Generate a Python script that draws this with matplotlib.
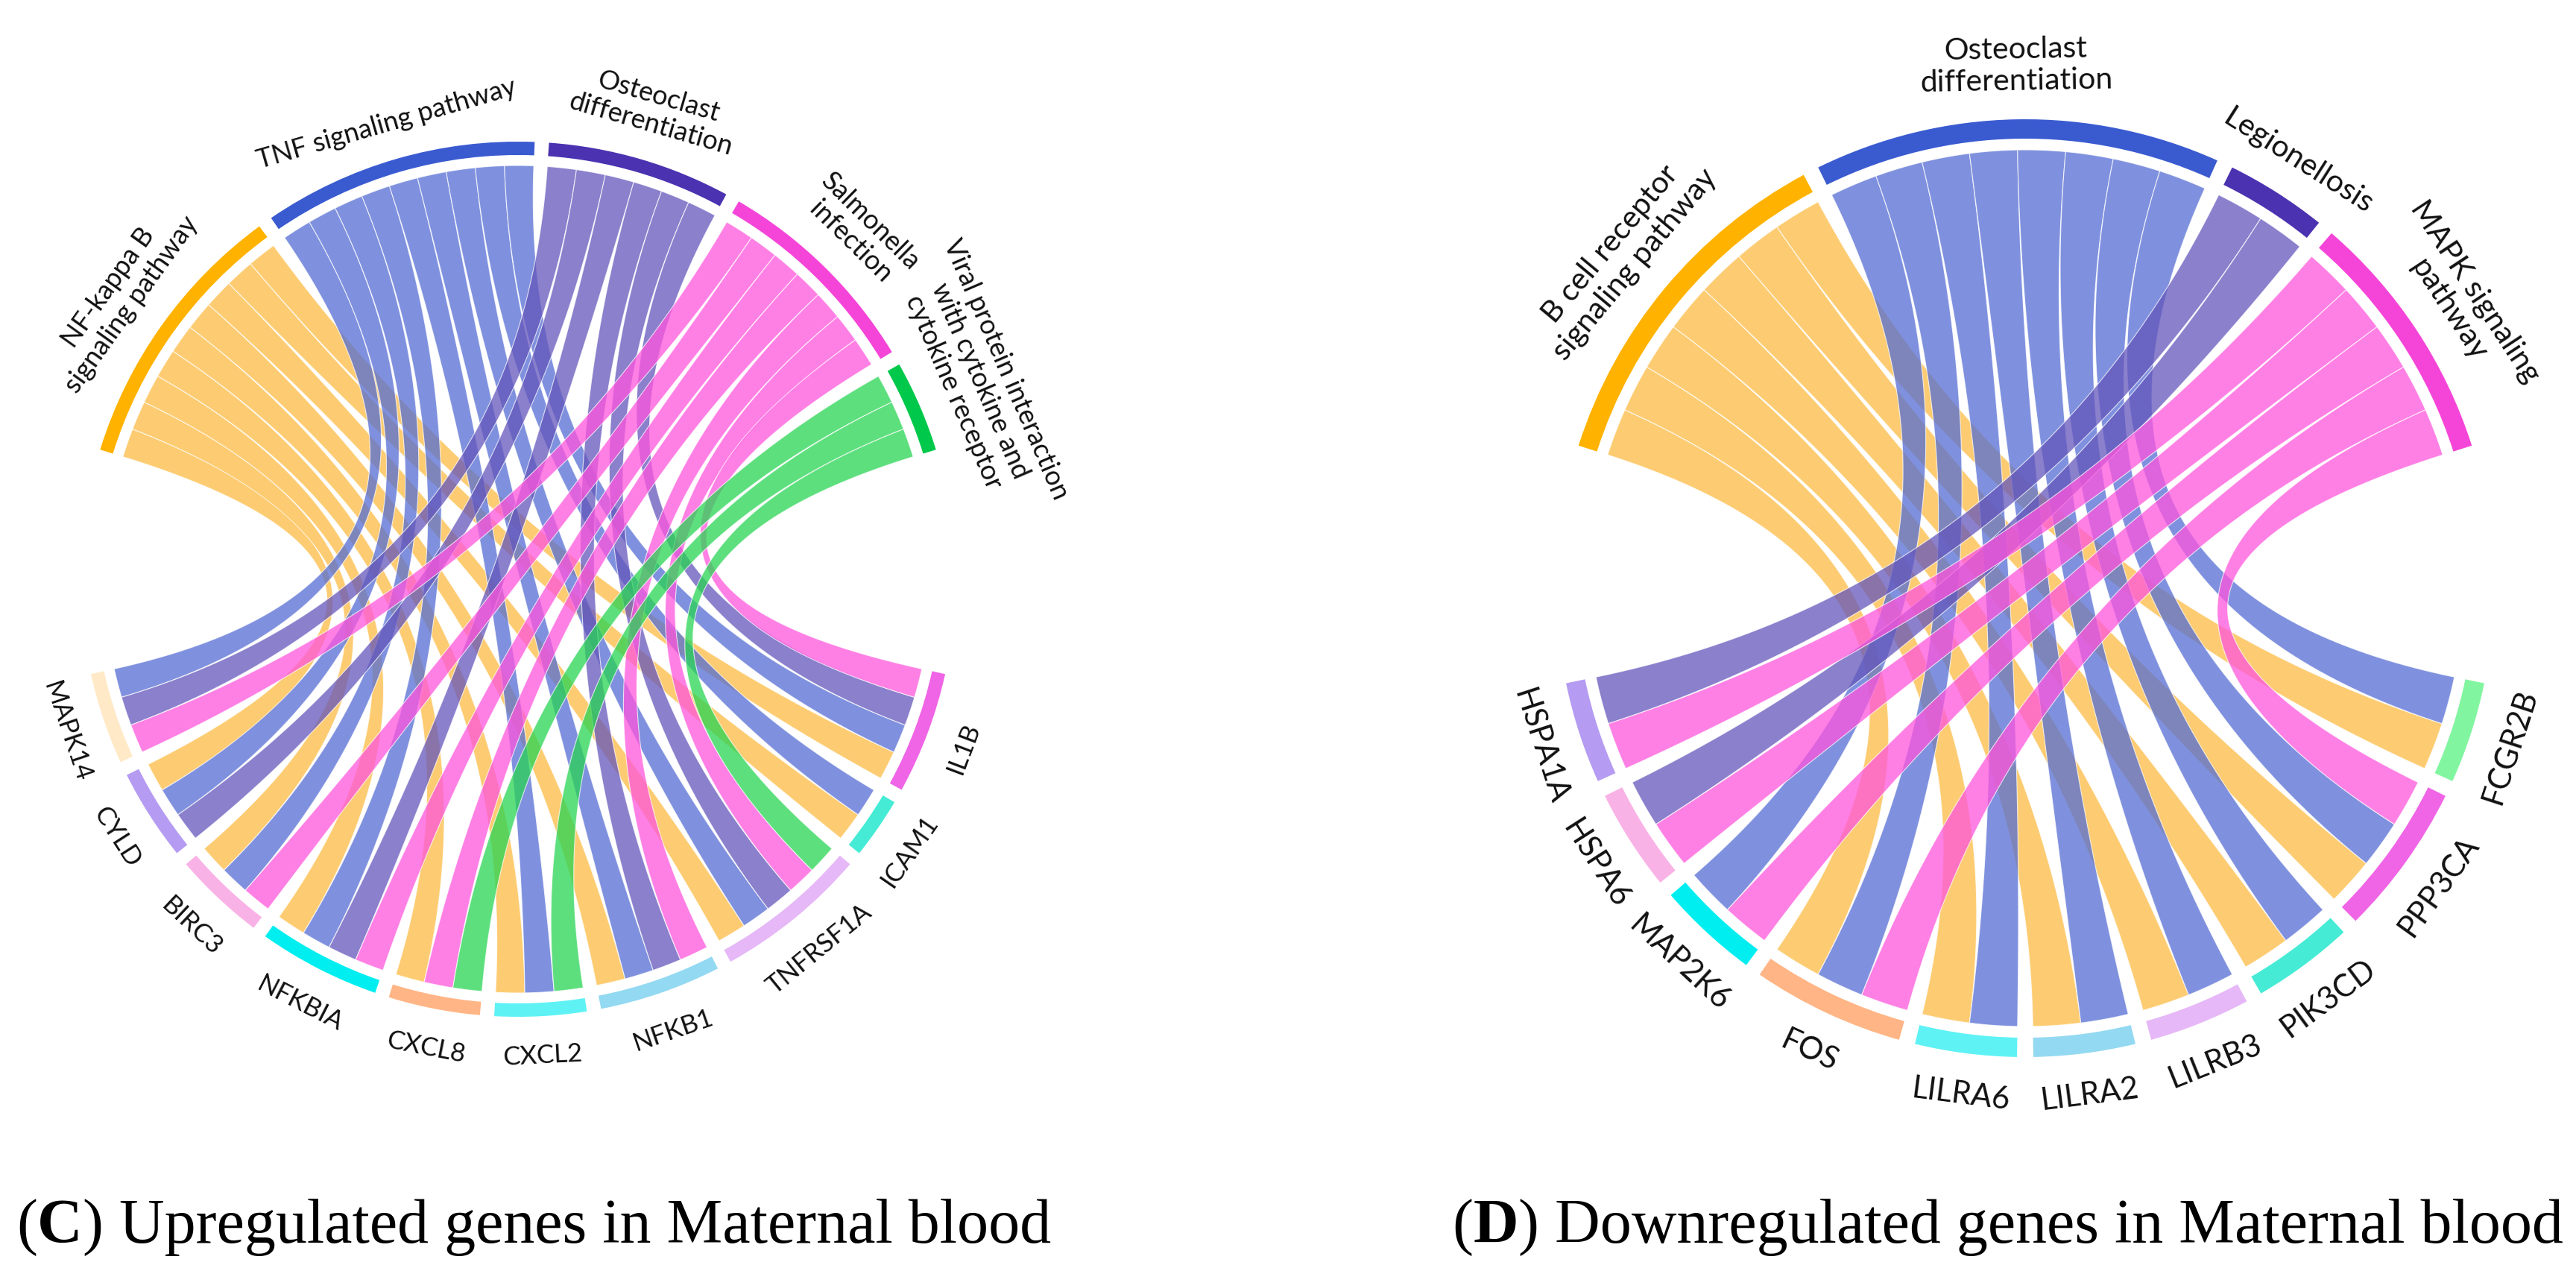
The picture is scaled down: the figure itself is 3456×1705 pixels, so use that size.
import numpy as np
import matplotlib
matplotlib.use("Agg")
import matplotlib.pyplot as plt
from matplotlib.patches import Wedge, Polygon

# ---- data -------------------------------------------------------------
up_genes = ['MAPK14', 'CYLD', 'BIRC3', 'NFKBIA', 'CXCL8', 'CXCL2',
            'NFKB1', 'TNFRSF1A', 'ICAM1', 'IL1B']
up_paths = ['NF-kappa B\nsignaling pathway', 'TNF signaling pathway',
            'Osteoclast\ndifferentiation', 'Salmonella\ninfection',
            'Viral protein interaction\nwith cytokine and\ncytokine receptor']
# rows = genes, cols = pathways
up_links = [[0, 1, 1, 1, 0],
            [1, 1, 1, 0, 0],
            [1, 1, 0, 1, 0],
            [1, 1, 1, 1, 0],
            [1, 0, 0, 1, 1],
            [1, 1, 0, 0, 1],
            [1, 1, 1, 1, 0],
            [1, 1, 1, 1, 1],
            [1, 1, 0, 0, 0],
            [1, 1, 1, 1, 0]]

down_genes = ['HSPA1A', 'HSPA6', 'MAP2K6', 'FOS', 'LILRA6', 'LILRA2',
              'LILRB3', 'PIK3CD', 'PPP3CA', 'FCGR2B']
down_paths = ['B cell receptor\nsignaling pathway', 'Osteoclast\ndifferentiation',
              'Legionellosis', 'MAPK signaling\npathway']
down_links = [[0, 0, 1, 1],
              [0, 0, 1, 1],
              [0, 1, 0, 1],
              [1, 1, 0, 1],
              [1, 1, 0, 0],
              [1, 1, 0, 0],
              [1, 1, 0, 0],
              [1, 1, 0, 0],
              [1, 1, 0, 1],
              [1, 1, 0, 0]]

# ---- colours ----------------------------------------------------------
path_ring = ['#FFB300', '#3A5BD0', '#4B32B0', '#F545D8', '#00C84A']
path_ribbon = ['#FDBB43', '#546DD3', '#6355BB', '#FF55DD', '#28D553']
gene_ring = ['#FFE9C7', '#B59CF2', '#F9B2E6', '#00EEF0', '#FFB585', '#5EF2F5',
             '#93D9F2', '#E6B8F7', '#45EBD5', '#F064E6', '#82F5A0']

W, H = 3456, 1706
fig = plt.figure(figsize=(W / 100, H / 100), dpi=100)
ax = fig.add_axes([0, 0, 1, 1])
ax.set_xlim(0, W)
ax.set_ylim(0, H)
ax.set_aspect('equal')
ax.axis('off')

LABEL_FONT = ['Lato', 'DejaVu Sans']


def pt(c, r, a):
    a = np.radians(a)
    return np.array([c[0] + r * np.cos(a), c[1] + r * np.sin(a)])


def arc(c, r, a0, a1, n=40):
    a = np.radians(np.linspace(a0, a1, n))
    return np.column_stack([c[0] + r * np.cos(a), c[1] + r * np.sin(a)])


def bez(p0, p2, c, n=80):
    t = np.linspace(0, 1, n)[:, None]
    return (1 - t) ** 2 * p0 + 2 * (1 - t) * t * np.array(c) + t ** 2 * p2


def chord(c, R, ring_w, gap_r, w, gap, genes, paths, links, gcols, fs_path, fs_gene):
    M = np.array(links)
    ng, npth = M.shape
    r_in = R - ring_w - gap_r
    pspan = M.sum() * w + (npth - 1) * gap
    gspan = M.sum() * w + (ng - 1) * gap

    # pathway arcs, high angle -> low angle
    p_start = []
    a = 90 + pspan / 2
    for j in range(npth):
        n = M[:, j].sum()
        p_start.append(a)
        ax.add_patch(Wedge(c, R, a - n * w, a, width=ring_w,
                           facecolor=path_ring[j], edgecolor='none'))
        mid = a - n * w / 2
        p = pt(c, R + 33, mid)
        ax.text(p[0], p[1], paths[j], rotation=mid - 90, rotation_mode='anchor',
                ha='center', va='bottom', multialignment='center',
                fontsize=fs_path, family=LABEL_FONT, color='#111111')
        a -= n * w + gap

    # gene arcs, low angle -> high angle
    g_start = []
    a = 270 - gspan / 2
    for i in range(ng):
        n = M[i].sum()
        g_start.append(a)
        ax.add_patch(Wedge(c, R, a, a + n * w, width=ring_w,
                           facecolor=gcols[i], edgecolor='none'))
        mid = a + n * w / 2
        p = pt(c, R + 36, mid)
        ax.text(p[0], p[1], genes[i], rotation=mid + 90, rotation_mode='anchor',
                ha='center', va='top', fontsize=fs_gene, family=LABEL_FONT,
                color='#111111')
        a += n * w + gap

    # ribbons, drawn pathway by pathway
    for j in range(npth):
        k = 0
        for i in range(ng):
            if not M[i, j]:
                continue
            p_hi = p_start[j] - k * w
            p_lo = p_hi - w
            kk = M[i, :j].sum()
            g_lo = g_start[i] + kk * w
            g_hi = g_lo + w
            pts = np.vstack([
                arc(c, r_in, p_lo, p_hi),
                bez(pt(c, r_in, p_hi), pt(c, r_in, g_lo), c),
                arc(c, r_in, g_lo, g_hi),
                bez(pt(c, r_in, g_hi), pt(c, r_in, p_lo), c),
            ])
            ax.add_patch(Polygon(pts, closed=True, facecolor=path_ribbon[j],
                                 alpha=0.75, edgecolor='white', linewidth=0.8))
            k += 1


chord((695, H - 778), 587, 18, 14, 4.06, 1.88, up_genes, up_paths, up_links,
      gene_ring[:10], 26, 25)
chord((2717, H - 790), 629, 26, 15, 6.3, 2.0, down_genes, down_paths, down_links,
      gene_ring[1:], 29.5, 30)

# ---- captions ---------------------------------------------------------
fig.canvas.draw()
renderer = fig.canvas.get_renderer()


def caption(parts, x, y, align='left'):
    texts = []
    for s, bold in parts:
        t = ax.text(0, y, s, fontsize=60.5, family=['Liberation Serif', 'DejaVu Serif'],
                    fontweight='bold' if bold else 'normal', va='baseline', ha='left')
        texts.append(t)
    widths = [t.get_window_extent(renderer).width for t in texts]
    total = sum(widths)
    cx = x if align == 'left' else x - total
    for t, wd in zip(texts, widths):
        t.set_x(cx)
        cx += wd


caption([('(', False), ('C', True), (') Upregulated genes in Maternal blood', False)],
        22, H - 1667, 'left')
caption([('(', False), ('D', True), (') Downregulated genes in Maternal blood', False)],
        3439, H - 1667, 'right')

fig.savefig('out.png', dpi=100, facecolor='white')
